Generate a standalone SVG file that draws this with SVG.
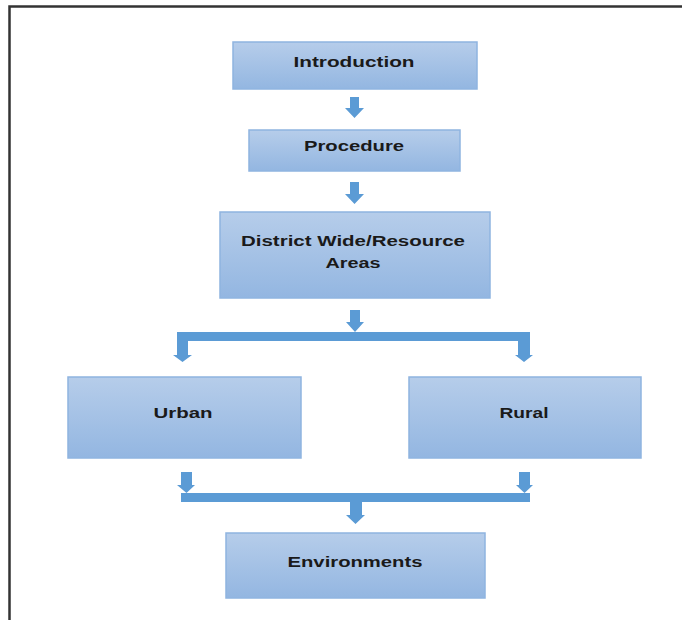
<svg xmlns="http://www.w3.org/2000/svg" width="682" height="620" viewBox="0 0 682 620">
<defs>
<linearGradient id="g" x1="0" y1="0" x2="0" y2="1">
<stop offset="0" stop-color="#b6cdea"/>
<stop offset="1" stop-color="#93b6e1"/>
</linearGradient>
<style>
.box{fill:url(#g);stroke:#8fb4e0;stroke-width:1.5}
.t{font-family:"Liberation Sans",Arial,sans-serif;font-weight:bold;font-size:14px;fill:#1a1a1a;text-anchor:middle}
.a{fill:#5b9bd5}
</style>
</defs>
<rect x="0" y="0" width="682" height="620" fill="#fff"/>
<path d="M9.5 620 V6.5 H682" fill="none" stroke="#333" stroke-width="2.5"/>
<g id="introduction"><rect class="box" x="233" y="42" width="244" height="47"/><text class="t" x="354" y="67" textLength="121" lengthAdjust="spacingAndGlyphs">Introduction</text></g>
<g id="procedure"><rect class="box" x="249" y="130" width="211" height="41"/><text class="t" x="354" y="151" textLength="100" lengthAdjust="spacingAndGlyphs">Procedure</text></g>
<g id="district"><rect class="box" x="220" y="212" width="270" height="86"/><text class="t" x="353" y="246" textLength="224" lengthAdjust="spacingAndGlyphs">District Wide/Resource</text><text class="t" x="353" y="268" textLength="55" lengthAdjust="spacingAndGlyphs">Areas</text></g>
<g id="urban"><rect class="box" x="68" y="377" width="233" height="81"/><text class="t" x="183" y="418" textLength="59" lengthAdjust="spacingAndGlyphs">Urban</text></g>
<g id="rural"><rect class="box" x="409" y="377" width="232" height="81"/><text class="t" x="524" y="418" textLength="49" lengthAdjust="spacingAndGlyphs">Rural</text></g>
<g id="environments"><rect class="box" x="226" y="533" width="259" height="65"/><text class="t" x="355" y="567" textLength="135" lengthAdjust="spacingAndGlyphs">Environments</text></g>
<g id="connectors">
<path class="a" d="M350 97 H359 V108 H364 L354.5 118 L345 108 H350 Z"/>
<path class="a" d="M350 182 H359 V194 H364 L354.5 204 L345 194 H350 Z"/>
<path class="a" d="M350 310 H360 V322 H364 L355 332 L346 322 H350 Z"/>
<path class="a" d="M177 332 H530 V355 H533 L524 362 L515 355 H518 V341 H188 V355 H192 L182.5 362 L173 355 H177 Z"/>
<path class="a" d="M181 472 H192 V485 H195 L186.5 493 L177 485 H181 Z"/>
<path class="a" d="M519 472 H530 V485 H533 L524.5 493 L516 485 H519 Z"/>
<path class="a" d="M181 493 H530 V502 H362 V515 H365 L355.5 524 L346 515 H350 V502 H181 Z"/>
</g>
</svg>
